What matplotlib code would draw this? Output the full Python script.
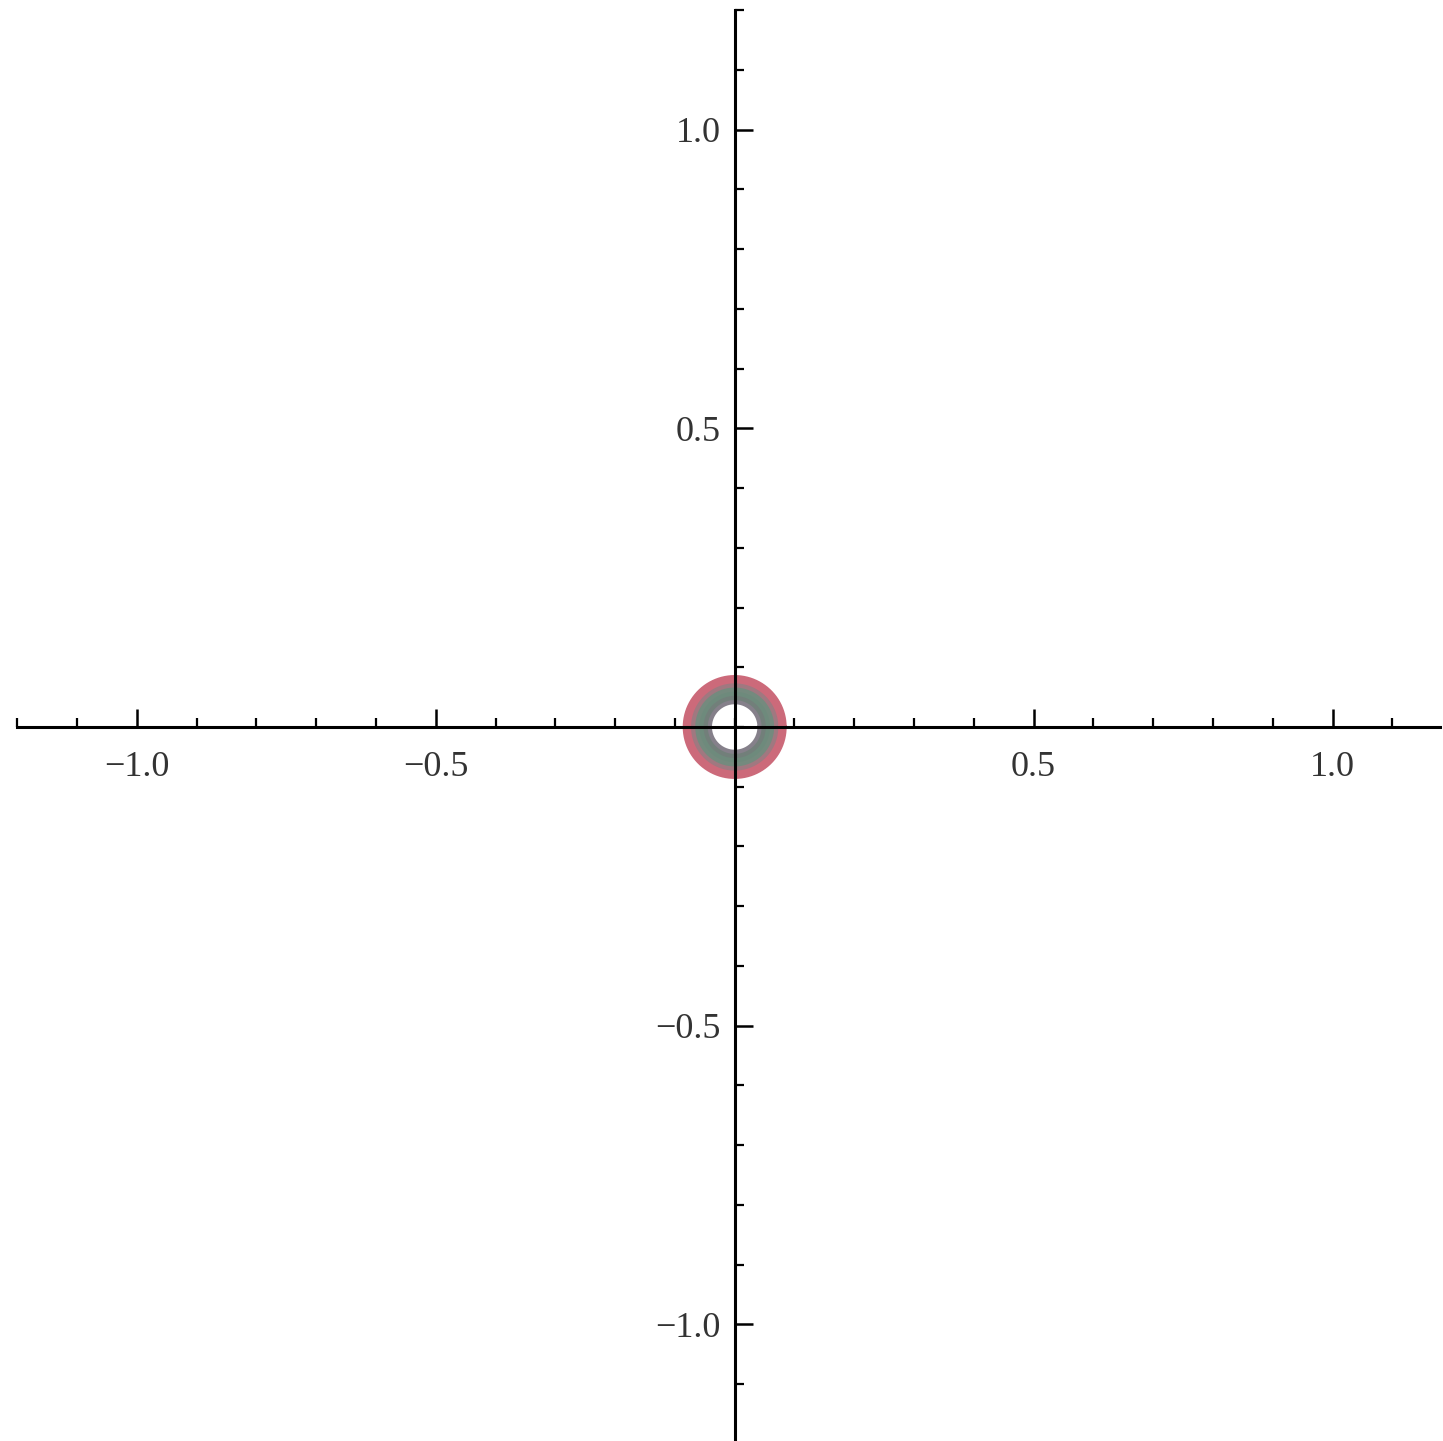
import numpy as np
import matplotlib
matplotlib.use('Agg')
import matplotlib.pyplot as plt
from matplotlib.ticker import MultipleLocator, FixedLocator

# ============================================================
# DONNEES
# ============================================================

rayons = [0.045, 0.052, 0.059, 0.066, 0.073, 0.080]
couleurs = ['#85808a', '#727f7a', '#6e8a7c', '#748a7e', '#a07880', '#cc6a7a']

x_labels = [-1.0, -0.5, 0.5, 1.0]
y_labels = [-1.0, -0.5, 0.5, 1.0]

# ============================================================
# FIGURE
# ============================================================

fig = plt.figure(figsize=(14.43, 14.41), dpi=100)
fig.patch.set_facecolor('white')
ax = fig.add_axes([0.012, -0.002, 0.986, 0.995])
ax.set_xlim(-1.2, 1.18)
ax.set_ylim(-1.2, 1.2)

theta = np.linspace(0, 2 * np.pi, 400)
for r, c in zip(rayons, couleurs):
    ax.plot(r * np.cos(theta), r * np.sin(theta), color=c, lw=6.0,
            solid_capstyle='round', zorder=1)

for s in ['top', 'right']:
    ax.spines[s].set_visible(False)
ax.spines['left'].set_position(('data', 0))
ax.spines['bottom'].set_position(('data', 0))
for s in ['left', 'bottom']:
    ax.spines[s].set_linewidth(2.2)
    ax.spines[s].set_color('black')
    ax.spines[s].set_zorder(3)

ax.xaxis.set_major_locator(FixedLocator(x_labels))
ax.yaxis.set_major_locator(FixedLocator(y_labels))
ax.xaxis.set_minor_locator(MultipleLocator(0.1))
ax.yaxis.set_minor_locator(MultipleLocator(0.1))
ax.set_xticklabels(['\u22121.0', '\u22120.5', '0.5', '1.0'])
ax.set_yticklabels(['\u22121.0', '\u22120.5', '0.5', '1.0'])

ax.tick_params(which='major', direction='in', length=13, width=1.8,
               labelsize=26, labelcolor='#333333', pad=10)
ax.tick_params(axis='x', which='major', pad=17)
ax.tick_params(which='minor', direction='in', length=6.5, width=1.6)
for lab in ax.get_xticklabels() + ax.get_yticklabels():
    lab.set_family('Liberation Serif')

plt.savefig('out.png', dpi=100, facecolor='white')
plt.close()
